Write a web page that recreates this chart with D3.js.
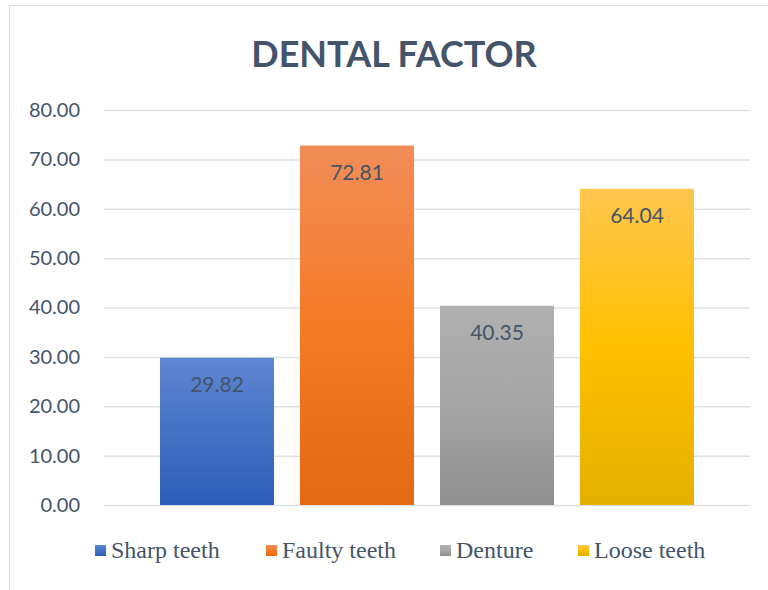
<!DOCTYPE html>
<html>
<head>
<meta charset="utf-8">
<script src="https://cdn.jsdelivr.net/npm/d3@7"></script>
<style>
  body { margin: 0; background: #fff; }
  svg { display: block; }
</style>
</head>
<body>
<div id="chart"></div>
<script>
// data
var categories = ["Sharp teeth", "Faulty teeth", "Denture", "Loose teeth"];
var values = [29.82, 72.81, 40.35, 64.04];
var yTicks = [0, 10, 20, 30, 40, 50, 60, 70, 80];
// gradient stops per bar: top, middle, bottom
var barColors = [
    ["#5f86d2", "#4472c4", "#2d5db6"],
    ["#f18d58", "#f47b26", "#e36915"],
    ["#b0b0b0", "#a5a5a5", "#8f8f8f"],
    ["#ffc64f", "#ffc000", "#e4b000"]
];

var width = 768;
var height = 590;
var textColor = "#44546a";

var svg = d3.select("#chart").append("svg")
    .attr("width", width)
    .attr("height", height);

// frame
svg.append("rect")
    .attr("x", 9.5).attr("y", 5.5)
    .attr("width", 800).attr("height", 700)
    .attr("fill", "#fff")
    .attr("stroke", "#d9dde3");

// title
svg.append("text")
    .attr("x", 394)
    .attr("y", 67)
    .attr("text-anchor", "middle")
    .attr("font-family", "Lato, 'Open Sans', sans-serif")
    .attr("font-weight", "bold")
    .attr("font-size", "36px")
    .attr("fill", textColor)
    .text("DENTAL FACTOR");

// scales
var y = d3.scaleLinear().domain([0, 80]).range([505, 110]);
var x = d3.scaleBand()
    .domain(categories)
    .range([147, 707])
    .paddingInner(26 / 140)
    .paddingOuter(13 / 140);

// gradients
var defs = svg.append("defs");
barColors.forEach(function (c, i) {
    var g = defs.append("linearGradient")
        .attr("id", "grad" + i)
        .attr("x1", 0).attr("y1", 0)
        .attr("x2", 0).attr("y2", 1);
    g.append("stop").attr("offset", "0%").attr("stop-color", c[0]);
    g.append("stop").attr("offset", "50%").attr("stop-color", c[1]);
    g.append("stop").attr("offset", "100%").attr("stop-color", c[2]);
});

// gridlines + y labels
var yAxis = d3.axisLeft(y)
    .tickValues(yTicks)
    .tickSize(-(750 - 104))
    .tickPadding(24)
    .tickFormat(d3.format(".2f"));

var yG = svg.append("g")
    .attr("transform", "translate(104,0)")
    .call(yAxis);
yG.select(".domain").remove();
yG.selectAll(".tick line")
    .attr("stroke", "#dde1e6")
    .attr("stroke-width", 1.5);
yG.selectAll(".tick text")
    .attr("font-family", "Lato, 'Open Sans', sans-serif")
    .attr("font-size", "20px")
    .attr("fill", textColor);

// bars
svg.selectAll(".bar")
    .data(values)
    .enter().append("rect")
    .attr("class", "bar")
    .attr("x", function (d, i) { return x(categories[i]); })
    .attr("y", function (d) { return y(d); })
    .attr("width", x.bandwidth())
    .attr("height", function (d) { return y(0) - y(d); })
    .attr("fill", function (d, i) { return "url(#grad" + i + ")"; });

// data labels
svg.selectAll(".label")
    .data(values)
    .enter().append("text")
    .attr("class", "label")
    .attr("x", function (d, i) { return x(categories[i]) + x.bandwidth() / 2; })
    .attr("y", function (d) { return y(d) + 34; })
    .attr("text-anchor", "middle")
    .attr("font-family", "Lato, 'Open Sans', sans-serif")
    .attr("font-size", "21px")
    .attr("fill", textColor)
    .text(function (d) { return d.toFixed(2); });

// legend
var legendX = [95, 266, 440, 578];
var legend = svg.selectAll(".legend")
    .data(categories)
    .enter().append("g")
    .attr("class", "legend")
    .attr("transform", function (d, i) { return "translate(" + legendX[i] + ",545)"; });
legend.append("rect")
    .attr("width", 11).attr("height", 11)
    .attr("fill", function (d, i) { return "url(#grad" + i + ")"; });
legend.append("text")
    .attr("x", 16)
    .attr("y", 13)
    .attr("font-family", "'Liberation Serif', 'Times New Roman', serif")
    .attr("font-size", "24px")
    .attr("fill", textColor)
    .text(function (d) { return d; });
</script>
</body>
</html>
